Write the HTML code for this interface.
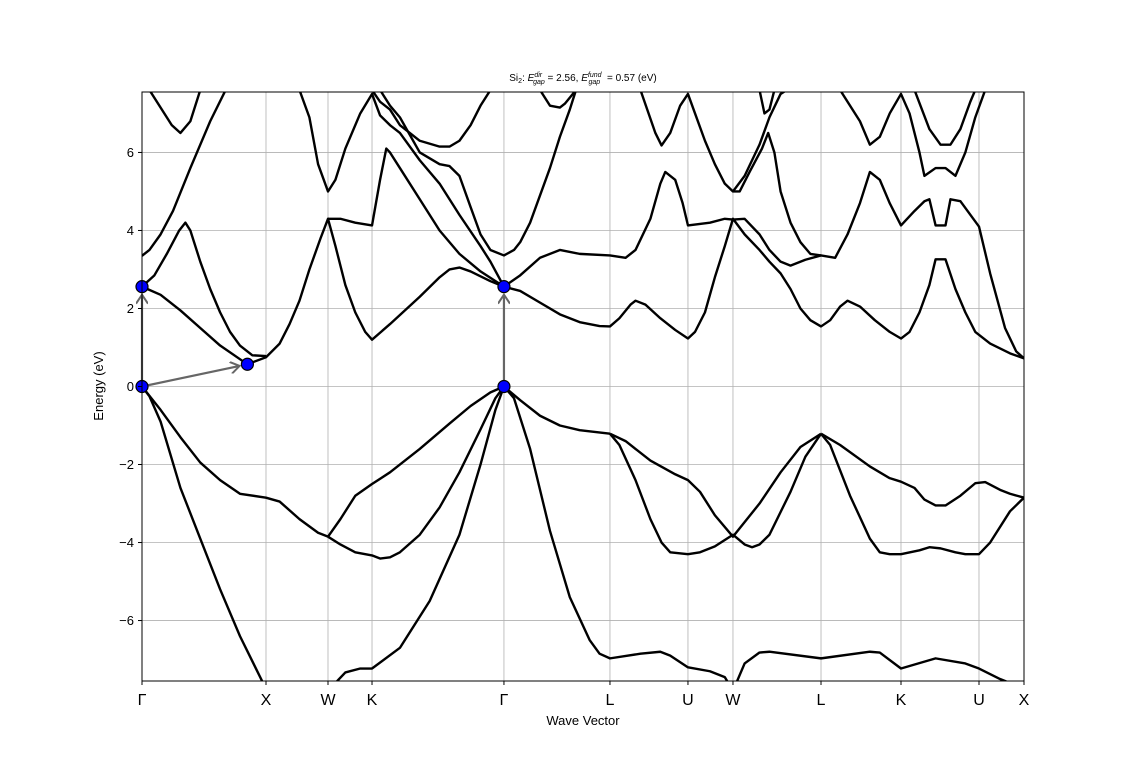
<!DOCTYPE html>
<html><head><meta charset="utf-8"><style>
body{margin:0;background:#fff;font-family:"Liberation Sans","DejaVu Sans",sans-serif}
svg text{font-family:"Liberation Sans","DejaVu Sans",sans-serif}
</style></head><body>
<svg id="chart" width="1138" height="765" xmlns="http://www.w3.org/2000/svg">
<defs><clipPath id="clip"><rect x="142" y="92" width="882" height="589"/></clipPath>
<marker id="ah" markerWidth="12" markerHeight="12" refX="10" refY="6" orient="auto" markerUnits="userSpaceOnUse"><path d="M1,0 L10,6 L1,12" fill="none" stroke="#666" stroke-width="2"/></marker></defs>
<g id="grid"></g><g id="bands" clip-path="url(#clip)"></g><g id="ann"></g><g id="axes"></g>
</svg>
<script>
const kTickLabels=["Γ","X","W","K","Γ","L","U","W","L","K","U","X"];
const kTicks=[0,1.0,1.5,1.855,2.919,3.774,4.403,4.766,5.476,6.121,6.75,7.113];
const eTicks=[-6,-4,-2,0,2,4,6];
const eRange=[-7.55,7.55];
const bands=[
[[0,0],[.06,-.25],[.15,-.9],[.31,-2.6],[.47,-3.9],[.63,-5.2],[.79,-6.4],[.97,-7.56],[1.0,-7.8]],
[[1.5,-7.8],[1.64,-7.33],[1.76,-7.23],[1.855,-7.23],[2.08,-6.7],[2.32,-5.5],[2.56,-3.8],[2.73,-2.0],[2.85,-0.6],[2.919,0],[3.0,-0.3],[3.13,-1.6],[3.29,-3.7],[3.45,-5.4],[3.61,-6.5],[3.69,-6.85],[3.774,-6.97],[4.02,-6.85],[4.18,-6.8],[4.26,-6.9],[4.403,-7.2],[4.58,-7.3],[4.70,-7.45],[4.766,-7.8]],
[[4.766,-7.8],[4.86,-7.1],[4.98,-6.82],[5.06,-6.8],[5.476,-6.97],[5.87,-6.8],[5.95,-6.82],[6.121,-7.23],[6.40,-6.97],[6.64,-7.1],[6.75,-7.23],[6.92,-7.5],[7.0,-7.6]],
[[0,0],[.15,-0.6],[.31,-1.3],[.47,-1.95],[.63,-2.4],[.79,-2.75],[1.0,-2.85],[1.11,-2.95],[1.27,-3.4],[1.42,-3.75],[1.5,-3.85],[1.60,-4.05],[1.72,-4.25],[1.855,-4.33],[1.92,-4.41],[2.0,-4.38],[2.08,-4.25],[2.24,-3.8],[2.40,-3.1],[2.56,-2.2],[2.73,-1.1],[2.85,-0.3],[2.919,0]],
[[1.5,-3.85],[1.60,-3.4],[1.72,-2.8],[1.855,-2.5],[2.0,-2.2],[2.24,-1.6],[2.48,-0.95],[2.65,-0.5],[2.81,-0.15],[2.919,0],[3.05,-0.35],[3.21,-0.75],[3.37,-1.0],[3.53,-1.12],[3.774,-1.21]],
[[3.774,-1.21],[3.85,-1.5],[3.98,-2.4],[4.10,-3.4],[4.19,-4.0],[4.26,-4.25],[4.403,-4.3],[4.50,-4.25],[4.62,-4.1],[4.766,-3.8],[4.86,-4.05],[4.92,-4.12],[4.98,-4.05],[5.06,-3.8],[5.23,-2.7],[5.35,-1.8],[5.476,-1.21]],
[[3.774,-1.21],[3.90,-1.4],[4.10,-1.9],[4.30,-2.25],[4.403,-2.4],[4.50,-2.7],[4.62,-3.3],[4.766,-3.85],[4.98,-3.0],[5.15,-2.2],[5.31,-1.55],[5.476,-1.21]],
[[5.476,-1.21],[5.55,-1.5],[5.71,-2.8],[5.87,-3.9],[5.95,-4.25],[6.03,-4.3],[6.121,-4.3],[6.27,-4.2],[6.35,-4.12],[6.44,-4.15],[6.56,-4.25],[6.64,-4.3],[6.75,-4.3],[6.84,-4.0],[7.0,-3.2],[7.113,-2.85]],
[[5.476,-1.21],[5.63,-1.5],[5.87,-2.05],[6.03,-2.35],[6.121,-2.44],[6.23,-2.6],[6.31,-2.9],[6.40,-3.05],[6.48,-3.05],[6.60,-2.8],[6.72,-2.48],[6.80,-2.45],[6.92,-2.65],[7.0,-2.75],[7.113,-2.85]],
[[0,2.56],[.15,2.35],[.31,1.95],[.47,1.5],[.63,1.05],[.79,0.7],[.85,0.57],[1.0,0.75],[1.11,1.1],[1.19,1.6],[1.27,2.2],[1.35,3.0],[1.44,3.8],[1.5,4.3],[1.56,3.6],[1.64,2.6],[1.72,1.9],[1.80,1.4],[1.855,1.2],[2.0,1.6],[2.24,2.3],[2.40,2.8],[2.48,3.0],[2.56,3.05],[2.65,2.95],[2.81,2.7],[2.919,2.56],[3.05,2.45],[3.21,2.15],[3.37,1.85],[3.53,1.65],[3.69,1.55],[3.774,1.54],[3.85,1.75],[3.94,2.1],[3.98,2.2],[4.06,2.1],[4.18,1.75],[4.30,1.45],[4.403,1.23],[4.46,1.4],[4.54,1.9],[4.62,2.8],[4.70,3.6],[4.766,4.3],[4.86,3.9],[4.98,3.5],[5.06,3.2],[5.15,2.9],[5.23,2.5],[5.31,2.0],[5.39,1.7],[5.476,1.54],[5.55,1.7],[5.63,2.05],[5.69,2.2],[5.79,2.05],[5.91,1.7],[6.03,1.4],[6.121,1.23],[6.19,1.4],[6.27,1.9],[6.35,2.6],[6.40,3.26],[6.48,3.26],[6.56,2.5],[6.64,1.9],[6.72,1.4],[6.84,1.1],[7.0,0.85],[7.113,0.72]],
[[0,2.56],[.1,2.85],[.2,3.4],[.3,4.0],[.35,4.2],[.39,4.0],[.47,3.2],[.55,2.5],[.63,1.9],[.71,1.4],[.79,1.05],[.89,0.8],[1.0,0.78]],
[[1.5,4.3],[1.60,4.3],[1.72,4.2],[1.855,4.13],[1.92,5.3],[1.97,6.1],[2.0,6.0],[2.08,5.6],[2.24,4.8],[2.40,4.0],[2.56,3.4],[2.73,2.95],[2.919,2.56],[3.05,2.85],[3.21,3.3],[3.37,3.5],[3.53,3.4],[3.774,3.36],[3.90,3.3],[3.98,3.5],[4.10,4.3],[4.18,5.2],[4.22,5.5],[4.30,5.3],[4.36,4.7],[4.403,4.13],[4.58,4.2],[4.70,4.3],[4.766,4.28],[4.86,4.3],[4.98,3.9],[5.06,3.5],[5.15,3.2],[5.23,3.1],[5.35,3.25],[5.476,3.36],[5.59,3.3],[5.69,3.9],[5.79,4.7],[5.87,5.5],[5.95,5.3],[6.03,4.7],[6.121,4.13],[6.23,4.5],[6.31,4.75],[6.35,4.8],[6.40,4.13],[6.48,4.13],[6.52,4.8],[6.60,4.75],[6.75,4.1],[6.84,2.9],[6.96,1.5],[7.05,0.9],[7.113,0.72]],
[[0,3.35],[.06,3.5],[.15,3.9],[.25,4.5],[.39,5.6],[.55,6.8],[.69,7.7]],
[[.06,7.6],[.24,6.7],[.31,6.5],[.39,6.8],[.47,7.6]],
[[1.27,7.6],[1.35,6.9],[1.42,5.7],[1.5,5.0],[1.56,5.3],[1.64,6.1],[1.76,7.0],[1.855,7.5],[1.92,6.95],[2.0,6.7],[2.08,6.5],[2.24,5.8],[2.40,5.2],[2.56,4.4],[2.73,3.6],[2.81,3.2],[2.919,2.56]],
[[1.855,7.6],[1.92,7.3],[2.0,7.1],[2.08,6.7],[2.24,6.3],[2.40,6.15],[2.48,6.15],[2.56,6.3],[2.65,6.7],[2.73,7.2],[2.81,7.6]],
[[1.92,7.6],[2.0,7.2],[2.08,6.9],[2.24,6.0],[2.40,5.7],[2.48,5.65],[2.56,5.4],[2.65,4.6],[2.73,3.9],[2.81,3.5],[2.919,3.36],[3.0,3.5],[3.05,3.7],[3.13,4.2],[3.29,5.6],[3.37,6.4],[3.45,7.1],[3.5,7.6]],
[[3.21,7.6],[3.29,7.2],[3.37,7.15],[3.41,7.25],[3.5,7.6]],
[[4.02,7.6],[4.14,6.5],[4.19,6.18],[4.26,6.5],[4.34,7.2],[4.403,7.5],[4.46,7.0],[4.54,6.3],[4.62,5.7],[4.70,5.2],[4.766,5.0],[4.82,5.0],[4.90,5.5],[5.0,6.1],[5.05,6.5],[5.10,6.0],[5.15,5.0],[5.23,4.2],[5.31,3.7],[5.39,3.4],[5.476,3.36]],
[[4.766,5.0],[4.86,5.4],[4.98,6.2],[5.06,6.9],[5.15,7.5],[5.2,7.6]],
[[4.98,7.6],[5.02,7.0],[5.06,7.1],[5.1,7.6]],
[[5.63,7.6],[5.79,6.8],[5.87,6.2],[5.95,6.4],[6.03,7.0],[6.121,7.5],[6.19,7.0],[6.27,6.0],[6.31,5.4],[6.40,5.6],[6.48,5.6],[6.56,5.4],[6.64,6.0],[6.72,6.9],[6.80,7.6]],
[[6.23,7.6],[6.35,6.6],[6.44,6.2],[6.52,6.2],[6.60,6.6],[6.68,7.3],[6.72,7.6]]
];
const gapPoints=[[0,0],[0,2.56],[.85,0.57],[2.919,0],[2.919,2.56]];
const gapArrows=[[[0,0],[.85,0.57]],[[0,0],[0,2.56]],[[2.919,0],[2.919,2.56]]];
const PX0=142,PX1=1024,PY0=92,PY1=681;
const sx=k=>PX0+(k-kTicks[0])/(kTicks[kTicks.length-1]-kTicks[0])*(PX1-PX0);
const sy=e=>PY1-(e-eRange[0])/(eRange[1]-eRange[0])*(PY1-PY0);
const NS="http://www.w3.org/2000/svg";
function mk(tag,attrs,parent,txt){const el=document.createElementNS(NS,tag);for(const a in attrs)el.setAttribute(a,attrs[a]);if(txt!==undefined)el.textContent=txt;document.getElementById(parent).appendChild(el);return el;}
kTicks.forEach((k,i)=>{
 const g=mk("line",{x1:sx(k),x2:sx(k),y1:PY0,y2:PY1,stroke:"#b0b0b0","stroke-width":0.8},"grid");
 
 
 const t=mk("line",{x1:sx(k),x2:sx(k),y1:PY1,y2:PY1+4,stroke:"#000"},"axes");
 
 
 const l=mk("text",{x:sx(k),y:705,"text-anchor":"middle","font-size":16},"axes",kTickLabels[i]);
 
 
});
eTicks.forEach(e=>{
 const g=mk("line",{x1:PX0,x2:PX1,y1:sy(e),y2:sy(e),stroke:"#b0b0b0","stroke-width":0.8},"grid");
 
 
 const t=mk("line",{x1:PX0-4,x2:PX0,y1:sy(e),y2:sy(e),stroke:"#000"},"axes");
 
 
 const l=mk("text",{x:PX0-8,y:sy(e)+4.5,"text-anchor":"end","font-size":13},"axes",(e<0?"−":"")+Math.abs(e));
 
 
});
bands.forEach(b=>{
 const p=mk("polyline",{points:b.map(q=>sx(q[0])+","+sy(q[1])).join(" "),fill:"none",stroke:"#000","stroke-width":2.4,"stroke-linejoin":"round"},"bands");
 
 
});
gapArrows.forEach(a=>{
 const x1=sx(a[0][0]),y1=sy(a[0][1]),x2=sx(a[1][0]),y2=sy(a[1][1]);
 const d=Math.hypot(x2-x1,y2-y1),s=(d-8)/d;
 const l=mk("line",{x1:x1,y1:y1,x2:x1+(x2-x1)*s,y2:y1+(y2-y1)*s,stroke:"#666","stroke-width":2.2,"marker-end":"url(#ah)"},"ann");
 
 
});
gapPoints.forEach(p=>{
 const c=mk("circle",{cx:sx(p[0]),cy:sy(p[1]),r:6,fill:"#0000ff",stroke:"#000","stroke-width":1.2},"ann");
 
 
});
const fr=mk("rect",{x:PX0,y:PY0,width:PX1-PX0,height:PY1-PY0,fill:"none",stroke:"#000","stroke-width":1},"axes");


</script>
<svg style="position:absolute;left:0;top:0" width="1138" height="765" xmlns="http://www.w3.org/2000/svg">
<text x="583" y="81" text-anchor="middle" font-size="10">Si<tspan font-size="7" dy="2">2</tspan><tspan dy="-2">: </tspan><tspan font-style="italic">E</tspan><tspan font-size="7" dy="-4" font-style="italic">dir</tspan><tspan font-size="7" dx="-9" dy="7" font-style="italic">gap</tspan><tspan dy="-3"> = 2.56, </tspan><tspan font-style="italic">E</tspan><tspan font-size="7" dy="-4" font-style="italic">fund</tspan><tspan font-size="7" dx="-13" dy="7" font-style="italic">gap</tspan><tspan dy="-3" dx="4"> = 0.57 (eV)</tspan></text>
<text x="583" y="725" text-anchor="middle" font-size="13">Wave Vector</text>
<text x="103" y="386" text-anchor="middle" font-size="13" transform="rotate(-90 103 386)">Energy (eV)</text>
</svg>
</body></html>
